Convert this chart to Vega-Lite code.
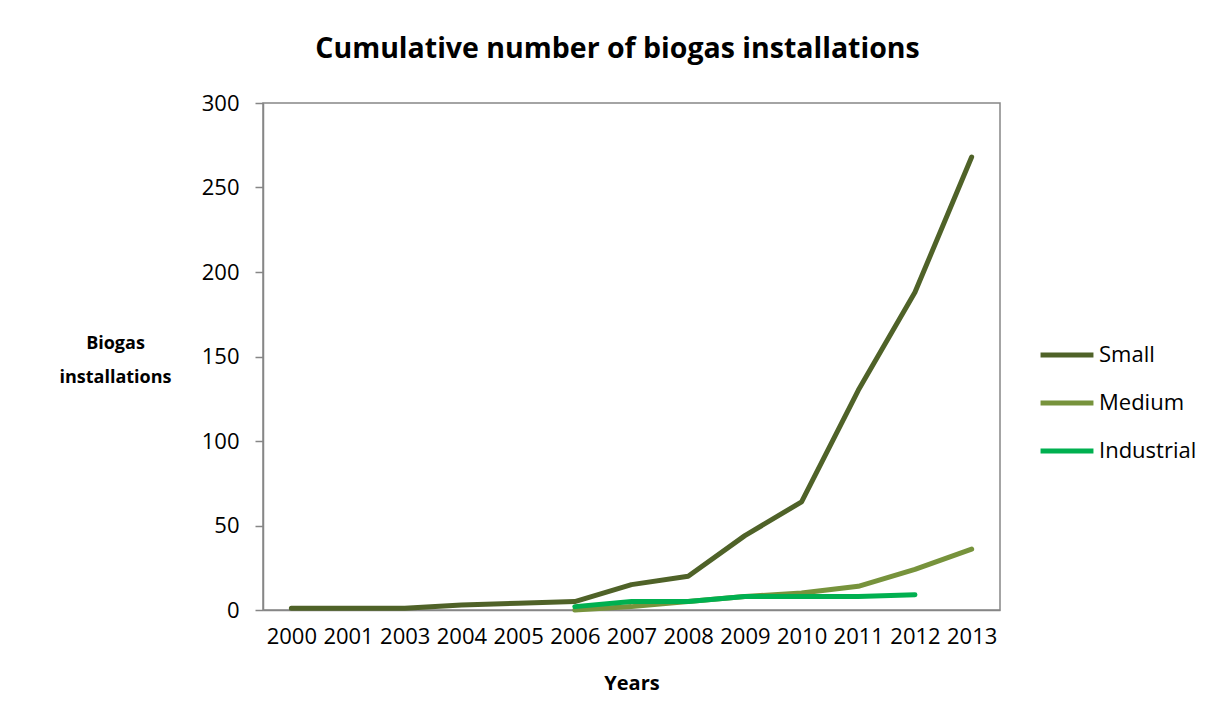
{
  "$schema": "https://vega.github.io/schema/vega-lite/v6.json",
  "width": 737,
  "height": 507,
  "autosize": {"type": "none"},
  "padding": {"left": 263, "top": 103, "right": 225, "bottom": 117},
  "background": "white",
  "title": {
    "text": "Cumulative number of biogas installations",
    "font": "Open Sans",
    "fontSize": 28.5,
    "fontWeight": "bold",
    "color": "#000000",
    "anchor": "middle",
    "frame": "group",
    "dx": -14,
    "offset": 29
  },
  "config": {
    "view": {"stroke": "#868686", "strokeWidth": 1.5},
    "font": "Open Sans"
  },
  "data": {
    "values": [
      {"year": "2000", "type": "Small", "value": 1},
      {"year": "2001", "type": "Small", "value": 1},
      {"year": "2003", "type": "Small", "value": 1},
      {"year": "2004", "type": "Small", "value": 3},
      {"year": "2005", "type": "Small", "value": 4},
      {"year": "2006", "type": "Small", "value": 5},
      {"year": "2007", "type": "Small", "value": 15},
      {"year": "2008", "type": "Small", "value": 20},
      {"year": "2009", "type": "Small", "value": 44},
      {"year": "2010", "type": "Small", "value": 64},
      {"year": "2011", "type": "Small", "value": 130},
      {"year": "2012", "type": "Small", "value": 188},
      {"year": "2013", "type": "Small", "value": 268},
      {"year": "2006", "type": "Medium", "value": 0},
      {"year": "2007", "type": "Medium", "value": 2},
      {"year": "2008", "type": "Medium", "value": 5},
      {"year": "2009", "type": "Medium", "value": 8},
      {"year": "2010", "type": "Medium", "value": 10},
      {"year": "2011", "type": "Medium", "value": 14},
      {"year": "2012", "type": "Medium", "value": 24},
      {"year": "2013", "type": "Medium", "value": 36},
      {"year": "2006", "type": "Industrial", "value": 2},
      {"year": "2007", "type": "Industrial", "value": 5},
      {"year": "2008", "type": "Industrial", "value": 5},
      {"year": "2009", "type": "Industrial", "value": 8},
      {"year": "2010", "type": "Industrial", "value": 8},
      {"year": "2011", "type": "Industrial", "value": 8},
      {"year": "2012", "type": "Industrial", "value": 9}
    ]
  },
  "mark": {"type": "line", "strokeWidth": 5, "strokeCap": "round", "strokeJoin": "round"},
  "encoding": {
    "x": {
      "field": "year",
      "type": "ordinal",
      "scale": {"type": "point", "padding": 0.5},
      "axis": {
        "title": "Years",
        "titleFont": "Open Sans",
        "titleFontSize": 20,
        "titleFontWeight": "bold",
        "titleColor": "#000000",
        "titlePadding": 26,
        "labelAngle": 0,
        "labelFont": "Open Sans",
        "labelFontSize": 22,
        "labelColor": "#000000",
        "labelPadding": 16,
        "ticks": false,
        "domainColor": "#868686",
        "domainWidth": 1.5,
        "grid": false
      }
    },
    "y": {
      "field": "value",
      "type": "quantitative",
      "scale": {"domain": [0, 300]},
      "axis": {
        "values": [0, 50, 100, 150, 200, 250, 300],
        "title": ["Biogas", "installations"],
        "titleAngle": 0,
        "titleFont": "Open Sans",
        "titleFontSize": 18,
        "titleFontWeight": "bold",
        "titleColor": "#000000",
        "titleAlign": "center",
        "titleBaseline": "middle",
        "titleLineHeight": 34,
        "titleX": -148,
        "titleY": 240,
        "labelFont": "Open Sans",
        "labelFontSize": 22,
        "labelColor": "#000000",
        "labelPadding": 16,
        "tickColor": "#868686",
        "tickSize": 8,
        "tickWidth": 1.5,
        "domainColor": "#868686",
        "domainWidth": 1.5,
        "grid": false
      }
    },
    "color": {
      "field": "type",
      "type": "nominal",
      "scale": {"domain": ["Small", "Medium", "Industrial"], "range": ["#4F6228", "#77933C", "#00B050"]},
      "legend": {
        "title": null,
        "orient": "none",
        "legendX": 775,
        "legendY": 223,
        "symbolType": "stroke",
        "symbolSize": 2800,
        "symbolStrokeWidth": 5,
        "labelFont": "Open Sans",
        "labelFontSize": 22,
        "labelColor": "#000000",
        "labelOffset": 3,
        "rowPadding": 8
      }
    }
  }
}
